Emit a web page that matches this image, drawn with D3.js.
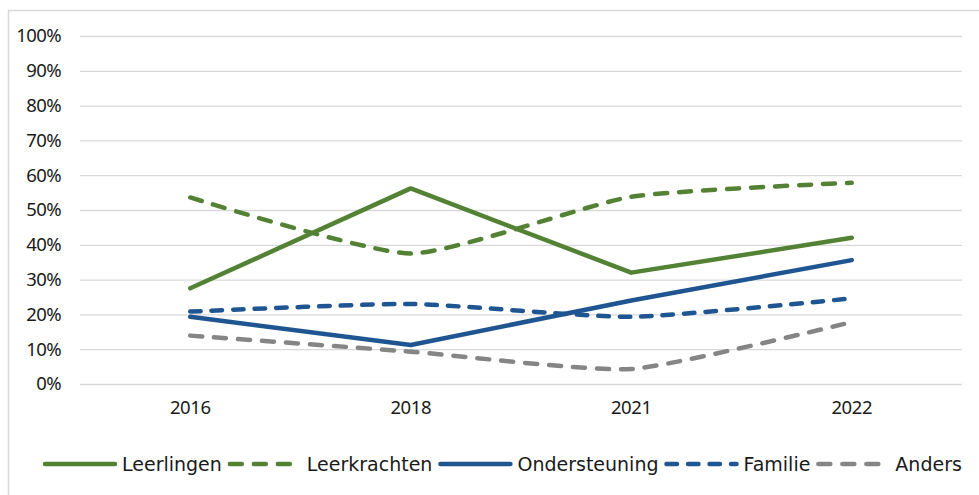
<!DOCTYPE html>
<html lang="nl">
<head>
<meta charset="UTF-8">
<title>Lijngrafiek</title>
<script src="https://d3js.org/d3.v7.min.js"></script>
<style>
  body { margin: 0; background: #fff; }
</style>
</head>
<body>
<div id="chart"></div>
<script>
// data (percentages)
var years = ["2016", "2018", "2021", "2022"];
var leerlingen = [27.5, 56.2, 32.0, 42.0];
var leerkrachten = [53.6, 37.5, 53.8, 57.8];
var ondersteuning = [19.3, 11.2, 24.0, 35.6];
var familie = [20.8, 23.0, 19.3, 24.6];
var anders = [13.9, 9.3, 4.3, 17.8];
var yTicks = [0, 10, 20, 30, 40, 50, 60, 70, 80, 90, 100];

var series = [
  {name: "Leerlingen", values: leerlingen, color: "#548235", dash: null, smooth: false},
  {name: "Leerkrachten", values: leerkrachten, color: "#548235", dash: "12 12", smooth: true},
  {name: "Ondersteuning", values: ondersteuning, color: "#1f5591", dash: null, smooth: false},
  {name: "Familie", values: familie, color: "#1f5591", dash: "10.5 11", smooth: true},
  {name: "Anders", values: anders, color: "#858585", dash: "12 12", smooth: true}
];

var W = 979, H = 495;
var plot = {left: 80, right: 962, top: 36, bottom: 384};

var svg = d3.select("#chart").append("svg")
    .attr("width", W)
    .attr("height", H);

// chart frame
svg.append("rect")
    .attr("x", 8.5).attr("y", 10.5)
    .attr("width", W + 10).attr("height", H + 10)
    .attr("fill", "none")
    .attr("stroke", "#d9d9d9")
    .attr("stroke-width", 1.5);

var x = d3.scaleBand()
    .domain(years)
    .range([plot.left, plot.right]);

var y = d3.scaleLinear()
    .domain([0, 100])
    .range([plot.bottom, plot.top]);

// gridlines + y labels
var yAxis = svg.append("g")
    .attr("transform", "translate(" + plot.left + ",0)")
    .call(d3.axisLeft(y)
        .tickValues(yTicks)
        .tickSize(-(plot.right - plot.left))
        .tickPadding(19)
        .tickFormat(function(d) { return d + "%"; }));
yAxis.select(".domain").remove();
yAxis.selectAll(".tick line")
    .attr("stroke", "#d9d9d9")
    .attr("stroke-width", 1.3);
yAxis.selectAll(".tick text")
    .attr("fill", "#1a1a1a")
    .attr("font-family", "'Noto Sans', sans-serif")
    .attr("font-size", 18.5)
    .attr("letter-spacing", -0.6);

// x labels
var xAxis = svg.append("g")
    .attr("transform", "translate(0," + plot.bottom + ")")
    .call(d3.axisBottom(x).tickSize(0).tickPadding(17));
xAxis.select(".domain").remove();
xAxis.selectAll(".tick text")
    .attr("fill", "#1a1a1a")
    .attr("font-family", "'Noto Sans', sans-serif")
    .attr("font-size", 18.5)
    .attr("letter-spacing", -0.4);

// lines (dashed series are smoothed like in the original)
series.forEach(function(s) {
  var line = d3.line()
      .x(function(d, i) { return x(years[i]) + x.bandwidth() / 2; })
      .y(function(d) { return y(d); })
      .curve(s.smooth ? d3.curveCardinal.tension(0.45) : d3.curveLinear);
  svg.append("path")
      .datum(s.values)
      .attr("fill", "none")
      .attr("stroke", s.color)
      .attr("stroke-width", 4.5)
      .attr("stroke-linecap", "round")
      .attr("stroke-linejoin", "round")
      .attr("stroke-dasharray", s.dash)
      .attr("d", line);
});

// legend
var legend = svg.append("g");
var lx = 45, ly = 464, symLen = 70;
series.forEach(function(s) {
  var g = legend.append("g");
  g.append("line")
      .attr("x1", lx).attr("x2", lx + symLen)
      .attr("y1", ly).attr("y2", ly)
      .attr("stroke", s.color)
      .attr("stroke-width", 4.5)
      .attr("stroke-linecap", "round")
      .attr("stroke-dasharray", s.dash);
  var t = g.append("text")
      .attr("x", lx + symLen + 7)
      .attr("y", ly + 7)
      .attr("fill", "#1a1a1a")
      .style("font-family", "'DejaVu Sans', sans-serif")
      .style("font-size", "19px")
      .text(s.name);
  lx = lx + symLen + 7 + t.node().getComputedTextLength() + 8;
});
</script>
</body>
</html>
